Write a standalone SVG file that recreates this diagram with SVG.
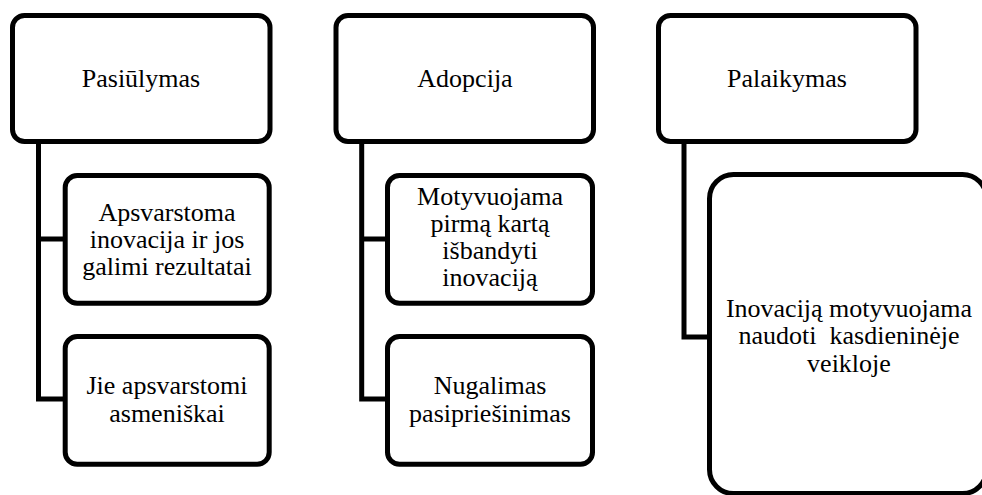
<svg xmlns="http://www.w3.org/2000/svg" width="982" height="495" viewBox="0 0 982 495">
<defs>
<rect id="topbox" width="257.5" height="126" rx="12" fill="#fff" stroke="#000" stroke-width="5"/>
</defs>
<rect width="982" height="495" fill="#fff"/>
<g id="connectors" fill="none" stroke="#000" stroke-width="5" stroke-linejoin="miter">
<path d="M38.5 141.5 V399 H65.2 M38.5 239 H65.2"/>
<path d="M361.7 141.5 V399 H387.5 M361.7 239 H387.5"/>
<path d="M684 141.5 V337 H709.5"/>
</g>
<g font-family="Liberation Serif, serif" font-size="26" text-anchor="middle" fill="#000">
<g id="pasiulymas">
<use href="#topbox" x="12.5" y="15.5"/>
<text x="141" y="87">Pasiūlymas</text>
</g>
<g id="apsvarstoma">
<rect x="65.2" y="175.5" width="204" height="127.7" rx="12" fill="#fff" stroke="#000" stroke-width="5"/>
<text x="167" y="221">Apsvarstoma</text>
<text x="167" y="248">inovacija ir jos</text>
<text x="167" y="275">galimi rezultatai</text>
</g>
<g id="jie">
<rect x="65.2" y="336.5" width="204" height="127.7" rx="12" fill="#fff" stroke="#000" stroke-width="5"/>
<text x="167" y="394">Jie apsvarstomi</text>
<text x="167" y="421.5">asmeniškai</text>
</g>
<g id="adopcija">
<use href="#topbox" x="336" y="15.5"/>
<text x="465" y="87">Adopcija</text>
</g>
<g id="motyvuojama">
<rect x="387.5" y="175.5" width="205" height="127.7" rx="12" fill="#fff" stroke="#000" stroke-width="5"/>
<text x="490" y="205">Motyvuojama</text>
<text x="490" y="232">pirmą kartą</text>
<text x="490" y="259">išbandyti</text>
<text x="490" y="286">inovaciją</text>
</g>
<g id="nugalimas">
<rect x="387.5" y="336.5" width="205" height="127.7" rx="12" fill="#fff" stroke="#000" stroke-width="5"/>
<text x="490" y="394">Nugalimas</text>
<text x="490" y="421.5">pasipriešinimas</text>
</g>
<g id="palaikymas">
<use href="#topbox" x="658.5" y="15.5"/>
<text x="787" y="87">Palaikymas</text>
</g>
<g id="inovacija">
<rect x="709.5" y="174.5" width="277" height="319" rx="24" fill="#fff" stroke="#000" stroke-width="5"/>
<text x="849" y="317">Inovaciją motyvuojama</text>
<text x="849" y="344" xml:space="preserve">naudoti  kasdieninėje</text>
<text x="849" y="371.5">veikloje</text>
</g>
</g>
</svg>
